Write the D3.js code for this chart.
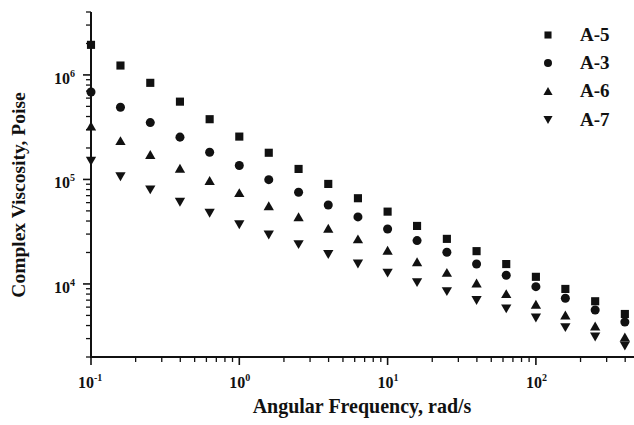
<!DOCTYPE html>
<html>
<head>
<meta charset="utf-8">
<script src="https://cdn.jsdelivr.net/npm/d3@7"></script>
<style>
  html, body { margin: 0; padding: 0; background: #fff; }
  svg { display: block; }
  text { font-family: "Liberation Serif", "DejaVu Serif", serif; font-weight: bold; fill: #111; }
</style>
</head>
<body>
<svg id="chart" width="634" height="425"></svg>
<script>
// Angular frequency sweep, rad/s
const frequency = [0.1, 0.158, 0.251, 0.398, 0.631, 1, 1.58, 2.51, 3.98, 6.31,
                   10, 15.8, 25.1, 39.8, 63.1, 100, 158, 251, 398];

// Complex viscosity (Poise) for each sample
const seriesNames = ["A-5", "A-3", "A-6", "A-7"];
const viscA5 = [1.94e6, 1.23e6, 8.4e5, 5.55e5, 3.77e5, 2.57e5, 1.80e5, 1.26e5, 9.06e4, 6.61e4,
                4.92e4, 3.59e4, 2.70e4, 2.06e4, 1.55e4, 1.17e4, 8.96e3, 6.83e3, 5.16e3];
const viscA3 = [6.87e5, 4.91e5, 3.50e5, 2.54e5, 1.82e5, 1.36e5, 9.95e4, 7.54e4, 5.70e4, 4.38e4,
                3.36e4, 2.60e4, 2.01e4, 1.55e4, 1.21e4, 9.42e3, 7.30e3, 5.64e3, 4.33e3];
const viscA6 = [3.25e5, 2.35e5, 1.73e5, 1.28e5, 9.75e4, 7.48e4, 5.61e4, 4.40e4, 3.41e4, 2.70e4,
                2.10e4, 1.63e4, 1.29e4, 1.02e4, 8.08e3, 6.39e3, 5.05e3, 3.96e3, 3.11e3];
const viscA7 = [1.49e5, 1.06e5, 7.94e4, 6.06e4, 4.75e4, 3.69e4, 2.94e4, 2.38e4, 1.91e4, 1.55e4,
                1.27e4, 1.03e4, 8.44e3, 6.95e3, 5.77e3, 4.73e3, 3.82e3, 3.11e3, 2.55e3];

// Axis tick labels (mantissa / exponent)
const xTickValues = [0.1, 1, 10, 100];
const xTickExps = ["-1", "0", "1", "2"];
const yTickValues = [1e4, 1e5, 1e6];
const yTickExps = ["4", "5", "6"];

const svg = d3.select("#chart");

const x = d3.scaleLog().domain([0.1, 500]).range([91, 91 + Math.log10(5000) * 148.3]);
const y = d3.scaleLog().domain([2000, 4e6]).range([357, 12]);

// Triangle symbols centred on their bounding box
const triUp = {
  draw(ctx, size) {
    const s = Math.sqrt(size * 4 / Math.sqrt(3));
    const h = s * Math.sqrt(3) / 2;
    ctx.moveTo(0, -h / 2); ctx.lineTo(s / 2, h / 2); ctx.lineTo(-s / 2, h / 2); ctx.closePath();
  }
};
const triDown = {
  draw(ctx, size) {
    const s = Math.sqrt(size * 4 / Math.sqrt(3));
    const h = s * Math.sqrt(3) / 2;
    ctx.moveTo(0, h / 2); ctx.lineTo(s / 2, -h / 2); ctx.lineTo(-s / 2, -h / 2); ctx.closePath();
  }
};
const symbolTypes = [d3.symbolSquare, d3.symbolCircle, triUp, triDown];
const symbolSizes = [66, 64, 46, 46];
const legendSizes = [50, 50, 36, 36];
const seriesValues = [viscA5, viscA3, viscA6, viscA7];

// ---- axes ----
const minorX = [];
[0.1, 1, 10, 100].forEach(d => { for (let m = 2; m <= 9; m++) minorX.push(d * m); });
const minorY = [];
[1000, 1e4, 1e5, 1e6].forEach(d => { for (let m = 2; m <= 9; m++) minorY.push(d * m); });

const xAxisG = svg.append("g");
xAxisG.append("line")
  .attr("x1", x(0.1) - 1).attr("x2", 634).attr("y1", y(2000)).attr("y2", y(2000))
  .attr("stroke", "#111").attr("stroke-width", 2);
xAxisG.selectAll("line.minor").data(minorX.filter(v => x(v) < 634)).join("line")
  .attr("class", "minor")
  .attr("x1", d => x(d)).attr("x2", d => x(d))
  .attr("y1", y(2000)).attr("y2", y(2000) + 5)
  .attr("stroke", "#111").attr("stroke-width", 1.3);
xAxisG.selectAll("line.major").data(xTickValues).join("line")
  .attr("class", "major")
  .attr("x1", d => x(d)).attr("x2", d => x(d))
  .attr("y1", y(2000)).attr("y2", y(2000) + 8)
  .attr("stroke", "#111").attr("stroke-width", 1.6);
const xLab = xAxisG.selectAll("text.tick").data(xTickValues).join("text")
  .attr("class", "tick")
  .attr("x", (d, i) => x(d) - (xTickExps[i].length > 1 ? 13 : 10))
  .attr("y", 388)
  .attr("font-size", 16);
xLab.append("tspan").text("10");
xLab.append("tspan").attr("dy", -7).attr("font-size", 10).text((d, i) => xTickExps[i]);

const yAxisG = svg.append("g");
yAxisG.append("line")
  .attr("x1", x(0.1)).attr("x2", x(0.1)).attr("y1", y(4e6)).attr("y2", y(2000) + 1)
  .attr("stroke", "#111").attr("stroke-width", 2);
yAxisG.selectAll("line.minor").data(minorY.filter(v => v >= 2000 && v <= 4e6)).join("line")
  .attr("class", "minor")
  .attr("x1", x(0.1) - 5).attr("x2", x(0.1))
  .attr("y1", d => y(d)).attr("y2", d => y(d))
  .attr("stroke", "#111").attr("stroke-width", 1.3);
yAxisG.selectAll("line.major").data(yTickValues).join("line")
  .attr("class", "major")
  .attr("x1", x(0.1) - 8).attr("x2", x(0.1))
  .attr("y1", d => y(d)).attr("y2", d => y(d))
  .attr("stroke", "#111").attr("stroke-width", 1.6);
const yLab = yAxisG.selectAll("text.tick").data(yTickValues).join("text")
  .attr("class", "tick")
  .attr("x", 54)
  .attr("y", d => y(d) + 9)
  .attr("font-size", 16);
yLab.append("tspan").text("10");
yLab.append("tspan").attr("dy", -7).attr("font-size", 10).text((d, i) => yTickExps[i]);

// ---- axis titles ----
svg.append("text")
  .attr("x", 362).attr("y", 413)
  .attr("text-anchor", "middle")
  .attr("font-size", 20)
  .text("Angular Frequency, rad/s");

svg.append("text")
  .attr("transform", "translate(25,195) rotate(-90)")
  .attr("text-anchor", "middle")
  .attr("font-size", 19.5)
  .text("Complex Viscosity, Poise");

// ---- data markers ----
seriesValues.forEach((vals, si) => {
  svg.append("g").selectAll("path").data(vals).join("path")
    .attr("transform", (d, i) => `translate(${x(frequency[i])},${y(d)})`)
    .attr("d", d3.symbol().type(symbolTypes[si]).size(symbolSizes[si]))
    .attr("fill", "#111");
});

// ---- legend ----
const legendRows = [35, 63, 91, 120];
const legend = svg.append("g");
seriesNames.forEach((name, i) => {
  legend.append("path")
    .attr("transform", `translate(548,${legendRows[i]})`)
    .attr("d", d3.symbol().type(symbolTypes[i]).size(legendSizes[i]))
    .attr("fill", "#111");
  legend.append("text")
    .attr("x", 580).attr("y", legendRows[i] + 6)
    .attr("font-size", 19)
    .text(name);
});
</script>
</body>
</html>
